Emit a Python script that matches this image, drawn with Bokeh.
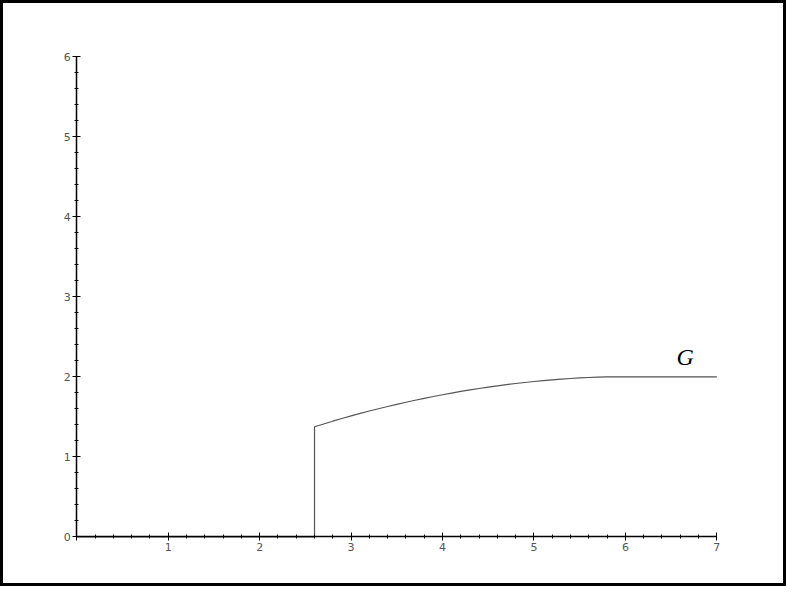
from bokeh.plotting import figure
from bokeh.models import Range1d, SingleIntervalTicker
from bokeh.core.properties import value
from bokeh.embed import file_html
from bokeh.resources import INLINE

# --- data ---
x_vals = [0.0, 2.6, 2.6, 2.7, 2.8, 2.9, 3.0, 3.1, 3.2, 3.3, 3.4, 3.5, 3.6,
          3.7, 3.8, 3.9, 4.0, 4.1, 4.2, 4.3, 4.4, 4.5, 4.6, 4.7, 4.8, 4.9,
          5.0, 5.1, 5.2, 5.3, 5.4, 5.5, 5.6, 5.7, 5.8, 5.9, 6.0, 7.0]
g_vals = [0.0, 0.0, 1.375, 1.41, 1.445, 1.479, 1.511, 1.542, 1.572, 1.601,
          1.629, 1.656, 1.682, 1.707, 1.731, 1.754, 1.776, 1.797, 1.817,
          1.836, 1.854, 1.871, 1.887, 1.902, 1.916, 1.929, 1.941, 1.952,
          1.962, 1.971, 1.979, 1.986, 1.991, 1.995, 1.998, 1.9995, 2.0, 2.0]
label_text = ["G"]
label_x = [6.655]
label_y = [2.25]
x_ticks_interval = 1
y_ticks_interval = 1

W, H = 786, 586
# pixel mapping (origin at page px 84.3, 544.3)
px_per_x = 91.43
px_per_y = 80.0
ox, oy = 84.3 - 8, 544.3 - 8
x_start = -ox / px_per_x
x_end = (W - ox) / px_per_x
y_end = oy / px_per_y
y_start = -(H - oy) / px_per_y

p = figure(width=W, height=H, output_backend="svg", toolbar_location=None,
           x_range=Range1d(x_start, x_end), y_range=Range1d(y_start, y_end),
           min_border=0, min_border_left=0, min_border_right=0,
           min_border_top=0, min_border_bottom=0)
p.background_fill_color = "white"
p.border_fill_color = "white"
p.outline_line_color = "black"
p.outline_line_width = 5
p.xgrid.visible = False
p.ygrid.visible = False

for ax, interval, bounds in ((p.xaxis[0], x_ticks_interval, (0, 7)),
                             (p.yaxis[0], y_ticks_interval, (0, 6))):
    ax.fixed_location = 0
    ax.bounds = bounds
    ax.ticker = SingleIntervalTicker(interval=interval, num_minor_ticks=5)
    ax.axis_line_color = "black"
    ax.axis_line_width = 1.5
    ax.major_tick_line_color = "black"
    ax.minor_tick_line_color = "black"
    ax.major_tick_in = 4
    ax.major_tick_out = 4
    ax.minor_tick_in = 2
    ax.minor_tick_out = 2
    ax.major_label_text_font = "DejaVu Sans"
    ax.major_label_text_font_size = "11px"
    ax.major_label_text_color = "#555555"
    ax.major_label_standoff = 2

p.xaxis[0].major_label_overrides = {0: ""}

p.line(x_vals, g_vals, line_color="#555555", line_width=1.2)
p.text(x=label_x, y=label_y, text=label_text, text_font=value("Liberation Serif"),
       text_font_style="italic", text_font_size="24px", text_color="black",
       text_align="center", text_baseline="middle")

open("out.html", "w").write(file_html(p, INLINE))
